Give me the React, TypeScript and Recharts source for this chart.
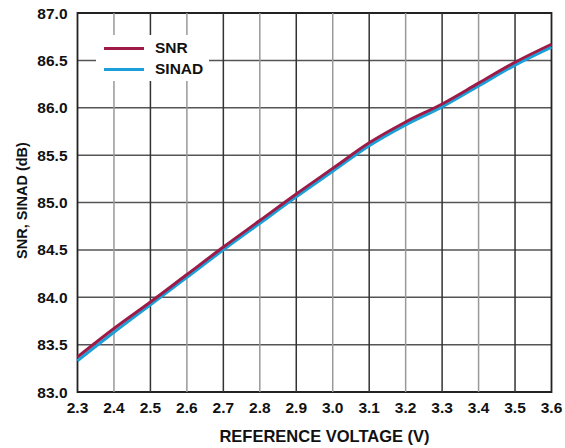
import React from "react";
import {
  LineChart,
  Line,
  XAxis,
  YAxis,
  CartesianGrid,
  ReferenceLine,
  ReferenceArea,
} from "recharts";

const voltages = [2.3, 2.4, 2.5, 2.6, 2.7, 2.8, 2.9, 3.0, 3.1, 3.2, 3.3, 3.4, 3.5, 3.6];
const snr = [83.37, 83.67, 83.95, 84.24, 84.53, 84.81, 85.09, 85.36, 85.63, 85.85, 86.04, 86.26, 86.48, 86.67];
const sinad = [83.33, 83.63, 83.92, 84.21, 84.5, 84.78, 85.06, 85.33, 85.6, 85.82, 86.01, 86.23, 86.45, 86.64];

const xTicks = [2.3, 2.4, 2.5, 2.6, 2.7, 2.8, 2.9, 3.0, 3.1, 3.2, 3.3, 3.4, 3.5, 3.6];
const yTicks = [83.0, 83.5, 84.0, 84.5, 85.0, 85.5, 86.0, 86.5, 87.0];

const series = [
  { key: "sinad", name: "SINAD", color: "#1a9fd9" },
  { key: "snr", name: "SNR", color: "#9e1b47" },
];
const legendOrder = ["snr", "sinad"];

const data = voltages.map((v, i) => ({ v, snr: snr[i], sinad: sinad[i] }));

const FONT = '"Liberation Sans", Arial, sans-serif';

const YTitle = (props: any) => {
  const { viewBox } = props;
  const cy = viewBox.y + viewBox.height / 2 - 2;
  const cx = 22;
  return (
    <text
      x={cx}
      y={cy}
      transform={`rotate(-90, ${cx}, ${cy})`}
      textAnchor="middle"
      dominantBaseline="central"
      fontFamily={FONT}
      fontWeight="bold"
      fontSize={14.5}
      fill="#111"
    >
      SNR, SINAD (dB)
    </text>
  );
};

const XTitle = (props: any) => {
  const { viewBox } = props;
  const cx = viewBox.x + viewBox.width / 2 + 10;
  return (
    <text
      x={cx}
      y={442}
      textAnchor="middle"
      fontFamily={FONT}
      fontWeight="bold"
      fontSize={16.5}
      fill="#111"
    >
      REFERENCE VOLTAGE (V)
    </text>
  );
};

export default function App() {
  const tickStyle = { fontFamily: FONT, fontWeight: "bold", fontSize: 15.5, fill: "#111" } as any;
  return (
    <div style={{ position: "absolute", left: 0, top: 0, width: 565, height: 448, background: "#fff" }}>
      <LineChart
        width={565}
        height={448}
        data={data}
        margin={{ top: 13, right: 13.5, bottom: 0, left: 0 }}
      >
        <CartesianGrid vertical={false} stroke="#555" strokeWidth={1.5} strokeDasharray="" />
        {xTicks.slice(1, -1).map((t, i) => (
          <ReferenceLine
            key={t}
            x={t}
            stroke={i % 2 === 0 ? "#999" : "#333"}
            strokeWidth={1.5}
            ifOverflow="visible"
          />
        ))}
        <XAxis
          dataKey="v"
          type="number"
          domain={[2.3, 3.6]}
          ticks={xTicks}
          tickFormatter={(t: number) => t.toFixed(1)}
          tick={tickStyle}
          tickLine={false}
          tickSize={0}
          tickMargin={10}
          axisLine={false}
          interval={0}
          height={56}
          label={<XTitle />}
        />
        <YAxis
          type="number"
          domain={[83, 87]}
          ticks={yTicks}
          tickFormatter={(t: number) => t.toFixed(1)}
          tick={tickStyle}
          tickLine={false}
          tickSize={0}
          tickMargin={10}
          axisLine={false}
          width={77.5}
          interval={0}
          label={<YTitle />}
        />
        {series.map((s) => (
          <Line
            key={s.key}
            dataKey={s.key}
            name={s.name}
            stroke={s.color}
            strokeWidth={3}
            dot={false}
            type="monotone"
            isAnimationActive={false}
          />
        ))}
        <ReferenceArea
          x1={2.3}
          x2={3.6}
          y1={83}
          y2={87}
          fill="none"
          stroke="#222"
          strokeWidth={1.8}
          ifOverflow="visible"
        />
      </LineChart>
      <div
        style={{
          position: "absolute",
          left: 96,
          top: 35,
          width: 113,
          height: 46,
          background: "#fff",
          fontFamily: FONT,
          fontWeight: "bold",
          fontSize: 15.5,
          color: "#111",
        }}
      >
        {legendOrder.map((k, i) => {
          const s = series.find((x) => x.key === k)!;
          return (
            <div
              key={k}
              style={{ position: "absolute", left: 0, top: 4 + i * 21, height: 18, width: 113 }}
            >
              <div
                style={{
                  position: "absolute",
                  left: 8,
                  top: 7.5,
                  width: 40,
                  height: 3,
                  background: s.color,
                }}
              />
              <div style={{ position: "absolute", left: 59, top: 0, lineHeight: "18px" }}>{s.name}</div>
            </div>
          );
        })}
      </div>
    </div>
  );
}
